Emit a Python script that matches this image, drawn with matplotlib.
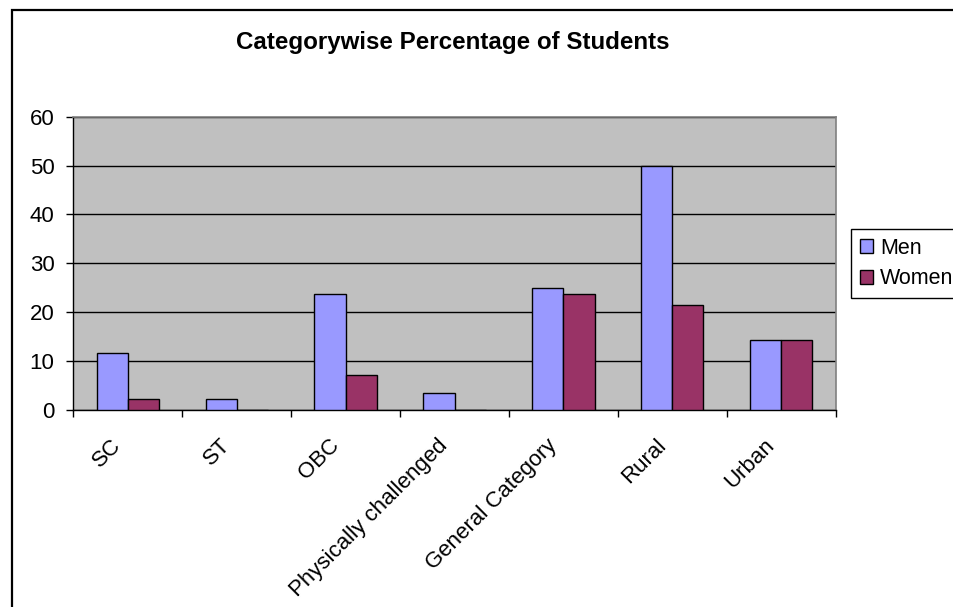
import matplotlib
matplotlib.use("Agg")
import matplotlib.pyplot as plt
from matplotlib.patches import Rectangle
from matplotlib.transforms import ScaledTranslation
import numpy as np

categories = ["SC", "ST", "OBC", "Physically challenged",
              "General Category", "Rural", "Urban"]
men = [11.7, 2.2, 23.8, 3.4, 24.9, 50.0, 14.3]
women = [2.2, 0.0, 7.2, 0.0, 23.8, 21.5, 14.3]

plt.rcParams['font.family'] = ['Liberation Sans', 'DejaVu Sans']

W, H = 954, 607
fig = plt.figure(figsize=(W / 100, H / 100), dpi=100)

# chart outer frame (cut by the image on right and bottom)
fig.patches.append(Rectangle((12 / W, -0.1), 1.2, 1 - 10 / H + 0.1,
                             transform=fig.transFigure, fill=False,
                             edgecolor='black', lw=1.6, clip_on=False))

ax = fig.add_axes([73.3 / W, (H - 410) / H, (835.7 - 73.3) / W, (410 - 116.7) / H])
ax.set_facecolor('#C0C0C0')

x = np.arange(len(categories))
bw = 1 / 3.5
ax.bar(x - bw / 2, men, bw, color='#9999FF', edgecolor='black', lw=1.0,
       label='Men', zorder=3)
ax.bar(x + bw / 2, women, bw, color='#993366', edgecolor='black', lw=1.0,
       label='Women', zorder=3)

ax.set_xlim(-0.5, len(categories) - 0.5)
ax.set_ylim(0, 60)
ax.set_yticks(range(0, 61, 10))
ax.yaxis.grid(True, color='black', lw=1.0, zorder=1)
ax.set_axisbelow(True)

# ticks at category boundaries, labels at centers
ax.set_xticks(np.arange(len(categories) + 1) - 0.5)
ax.set_xticklabels([])
ax.set_xticks(x, minor=True)
ax.set_xticklabels(categories, minor=True, rotation=45, ha='right',
                   va='top', rotation_mode='anchor', fontsize=16)
ax.tick_params(axis='x', which='major', length=5, width=1, direction='out')
ax.tick_params(axis='x', which='minor', length=0, pad=18)
ax.tick_params(axis='y', length=5, width=1, labelsize=16, pad=8.5)
shift = ScaledTranslation(-17 / 100, 0, fig.dpi_scale_trans)
for lab in ax.get_xticklabels(minor=True):
    lab.set_transform(lab.get_transform() + shift)

for s in ['left', 'bottom']:
    ax.spines[s].set_color('black')
    ax.spines[s].set_linewidth(1.0)
for s in ['top', 'right']:
    ax.spines[s].set_color('#808080')
    ax.spines[s].set_linewidth(1.2)

fig.text(453 / W, 1 - 42 / H, "Categorywise Percentage of Students",
         ha='center', va='center', fontsize=17.4, fontweight='bold')

leg = ax.legend(loc='upper left', bbox_to_anchor=(851 / W, 1 - 229 / H),
                bbox_transform=fig.transFigure, borderaxespad=0,
                fancybox=False, edgecolor='black', fontsize=15.5,
                handlelength=0.6, handleheight=0.6, handletextpad=0.35,
                borderpad=0.4, labelspacing=0.45, framealpha=1)
leg.get_frame().set_linewidth(1.0)

fig.savefig("out.png", dpi=100)
